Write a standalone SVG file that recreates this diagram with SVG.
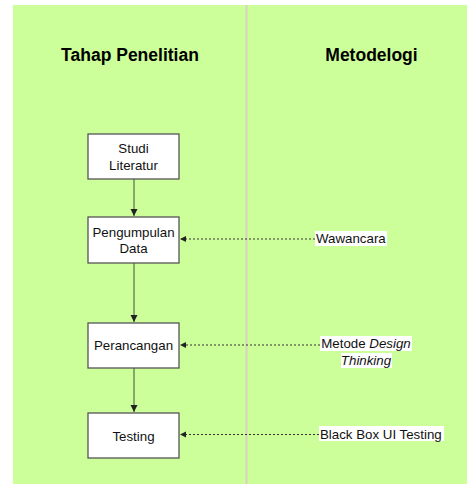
<svg xmlns="http://www.w3.org/2000/svg" width="467" height="484" viewBox="0 0 467 484">
  <style>
    .title { font-family: "Liberation Sans", Arial, sans-serif; font-size: 17.5px; font-weight: bold; fill: #000; text-anchor: middle; }
    .lbl { font-family: "Liberation Sans", Arial, sans-serif; font-size: 13.3px; fill: #111; text-anchor: middle; }
    .note { font-family: "Liberation Sans", Arial, sans-serif; font-size: 13.3px; fill: #111; }
    .box { fill: #ffffff; stroke: #555555; stroke-width: 1.3; }
    .flow { fill: none; stroke: #6e8b62; stroke-width: 1.5; }
    .ref { fill: none; stroke: #333333; stroke-width: 1; stroke-dasharray: 2 2; }
    .bg { fill: #ffffff; }
  </style>
  <defs>
    <marker id="arrowDown" viewBox="0 0 8 8" refX="7" refY="4" markerWidth="8" markerHeight="8" markerUnits="userSpaceOnUse" orient="auto">
      <path d="M0,0.5 L7,4 L0,7.5 Z" fill="#222"/>
    </marker>
    <marker id="arrowLeft" viewBox="0 0 8 8" refX="7" refY="4" markerWidth="7" markerHeight="7" markerUnits="userSpaceOnUse" orient="auto">
      <path d="M0,0.5 L7,4 L0,7.5 Z" fill="#222"/>
    </marker>
  </defs>

  <!-- swimlane background -->
  <rect x="13" y="5" width="454" height="479" fill="#ccff99"/>
  <line x1="246.5" y1="5" x2="246.5" y2="484" stroke="#dccfc0" stroke-width="2"/>

  <g id="lane-titles">
    <text class="title" x="130" y="61">Tahap Penelitian</text>
    <text class="title" x="371.5" y="61">Metodelogi</text>
  </g>

  <g id="connectors">
    <line class="flow" x1="134" y1="179" x2="134" y2="216" marker-end="url(#arrowDown)"/>
    <line class="flow" x1="134" y1="263" x2="134" y2="322" marker-end="url(#arrowDown)"/>
    <line class="flow" x1="134" y1="368" x2="134" y2="412" marker-end="url(#arrowDown)"/>
    <line class="ref" x1="315" y1="239" x2="180" y2="239" marker-end="url(#arrowLeft)"/>
    <line class="ref" x1="320" y1="345" x2="180" y2="345" marker-end="url(#arrowLeft)"/>
    <line class="ref" x1="319" y1="434.5" x2="180" y2="434.5" marker-end="url(#arrowLeft)"/>
  </g>

  <g id="studi-literatur">
    <rect class="box" x="88" y="134" width="91" height="45"/>
    <text class="lbl" x="133.5" y="153">Studi</text>
    <text class="lbl" x="133.5" y="170">Literatur</text>
  </g>

  <g id="pengumpulan-data">
    <rect class="box" x="88" y="217" width="91" height="46"/>
    <text class="lbl" x="133.5" y="237">Pengumpulan</text>
    <text class="lbl" x="133.5" y="253">Data</text>
  </g>

  <g id="perancangan">
    <rect class="box" x="88" y="323" width="91" height="45"/>
    <text class="lbl" x="133.5" y="350">Perancangan</text>
  </g>

  <g id="testing">
    <rect class="box" x="88" y="413" width="91" height="45"/>
    <text class="lbl" x="133.5" y="441">Testing</text>
  </g>

  <g id="wawancara">
    <rect class="bg" x="315" y="231" width="72" height="15"/>
    <text class="note" x="316" y="243">Wawancara</text>
  </g>

  <g id="design-thinking">
    <rect class="bg" x="320" y="336" width="92" height="15"/>
    <rect class="bg" x="341" y="353" width="51" height="15"/>
    <text class="lbl" x="366" y="348">Metode <tspan font-style="italic">Design</tspan></text>
    <text class="lbl" x="366" y="365" font-style="italic">Thinking</text>
  </g>

  <g id="black-box">
    <rect class="bg" x="319" y="426" width="125" height="15"/>
    <text class="note" x="320" y="439">Black Box UI Testing</text>
  </g>
</svg>
